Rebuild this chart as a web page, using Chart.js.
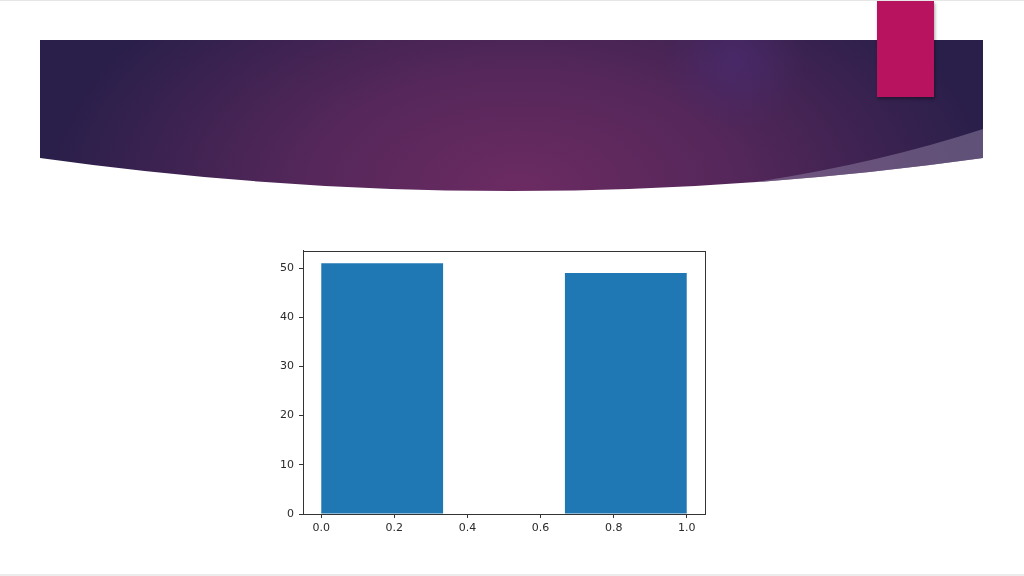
<!DOCTYPE html>
<html>
<head>
<meta charset="utf-8">
<script src="https://cdn.jsdelivr.net/npm/chart.js@4"></script>
<style>
  html, body { margin: 0; padding: 0; background: #fff; }
  #slide { position: relative; width: 1024px; height: 576px; overflow: hidden; background: #fff;
           border-top: 1px solid #e6e6e6; border-bottom: 2px solid #ececec; box-sizing: border-box; }
  #deco { position: absolute; left: 0; top: 0; }
  #pink { position: absolute; left: 877px; top: 0; width: 57px; height: 96px; background: #b8135f;
          box-shadow: 1px 2px 3px rgba(0,0,0,0.35); }
  #wrap { position: absolute; left: 250px; top: 238px; width: 470px; height: 302px; }
</style>
</head>
<body>
<div id="slide">
  <svg id="deco" width="1024" height="576">
    <defs>
      <radialGradient id="mainGlow" cx="520" cy="185" r="470" gradientUnits="userSpaceOnUse"
                      gradientTransform="translate(520 185) scale(1 0.55) translate(-520 -185)">
        <stop offset="0" stop-color="#6b2b62"/>
        <stop offset="0.45" stop-color="#55275a"/>
        <stop offset="1" stop-color="#2a1f4a"/>
      </radialGradient>
      <radialGradient id="blueGlow" cx="735" cy="60" r="70" gradientUnits="userSpaceOnUse">
        <stop offset="0" stop-color="#4a2a6e" stop-opacity="0.75"/>
        <stop offset="1" stop-color="#4a2a6e" stop-opacity="0"/>
      </radialGradient>
      <clipPath id="bannerClip">
        <path d="M40,39 H983 V157 Q511,223 40,157 Z"/>
      </clipPath>
    </defs>
    <g clip-path="url(#bannerClip)">
      <rect x="40" y="39" width="943" height="160" fill="url(#mainGlow)"/>
      <rect x="640" y="0" width="200" height="140" fill="url(#blueGlow)"/>
      <path d="M735,184 Q870,165 983,128 L983,200 L735,200 Z" fill="#8a7a9e" fill-opacity="0.55"/>
    </g>
  </svg>
  <div id="pink"></div>
  <div id="wrap"><canvas id="HistChart"></canvas></div>
</div>

<script>
// histogram bins (3 bins from 0 to 1)
const binStart = [0, 1 / 3, 2 / 3];
const binEnd = [1 / 3, 2 / 3, 1];
const counts = [51, 0, 49];
const xTicks = [0, 0.2, 0.4, 0.6, 0.8, 1.0];
const yTicks = [0, 10, 20, 30, 40, 50];

const ctx = document.getElementById("HistChart");

// matplotlib draws a box around the axes
const frameBox = {
  id: "frameBox",
  afterDraw(chart) {
    const a = chart.chartArea;
    const c = chart.ctx;
    c.save();
    c.strokeStyle = "#333";
    c.lineWidth = 1;
    c.strokeRect(Math.round(a.left) + 0.5, Math.round(a.top) + 0.5,
                 Math.round(a.right - a.left), Math.round(a.bottom - a.top));
    c.restore();
  }
};

function histData() {
  let pts = [];
  for (let i = 0; i < counts.length; i++) {
    pts.push({ x: (binStart[i] + binEnd[i]) / 2, y: counts[i] });
  }
  return pts;
}

// chart.js sizes bars from the smallest gap, which is the tick step here
const binWidth = binEnd[0] - binStart[0];
const tickStep = xTicks[1] - xTicks[0];

new Chart(ctx, {
  type: "bar",
  data: {
    datasets: [
      {
        data: histData(),
        backgroundColor: (c) => (c.raw && c.raw.y > 0 ? "#1f77b4" : "rgba(0,0,0,0)"),
        borderWidth: 0,
        barPercentage: binWidth / tickStep,
        categoryPercentage: 1,
      },
    ],
  },
  plugins: [frameBox],
  options: {
    responsive: true,
    maintainAspectRatio: false,
    animation: false,
    layout: { padding: { top: 8, right: 15, left: 0, bottom: 0 } },
    plugins: { legend: { display: false }, tooltip: { enabled: false } },
    scales: {
      x: {
        type: "linear",
        offset: false,
        min: -0.05,
        max: 1.05,
        afterBuildTicks: (scale) => { scale.ticks = xTicks.map((v) => ({ value: v })); },
        afterFit: (scale) => { scale.height = 27; },
        grid: { offset: false, drawOnChartArea: false, drawTicks: true, tickLength: 4, color: "#333" },
        border: { color: "#333" },
        ticks: {
          color: "#2a2a2a",
          padding: 4,
          maxRotation: 0,
          font: { family: "DejaVu Sans", size: 11 },
          callback: (v) => Number(v).toFixed(1),
        },
      },
      y: {
        min: 0,
        max: 53.55,
        afterBuildTicks: (scale) => { scale.ticks = yTicks.map((v) => ({ value: v })); },
        afterFit: (scale) => { scale.width = 53; },
        grid: { drawOnChartArea: false, drawTicks: true, tickLength: 4, color: "#333" },
        border: { color: "#333" },
        ticks: {
          color: "#2a2a2a",
          padding: 5,
          font: { family: "DejaVu Sans", size: 11 },
        },
      },
    },
  },
});
</script>
</body>
</html>
